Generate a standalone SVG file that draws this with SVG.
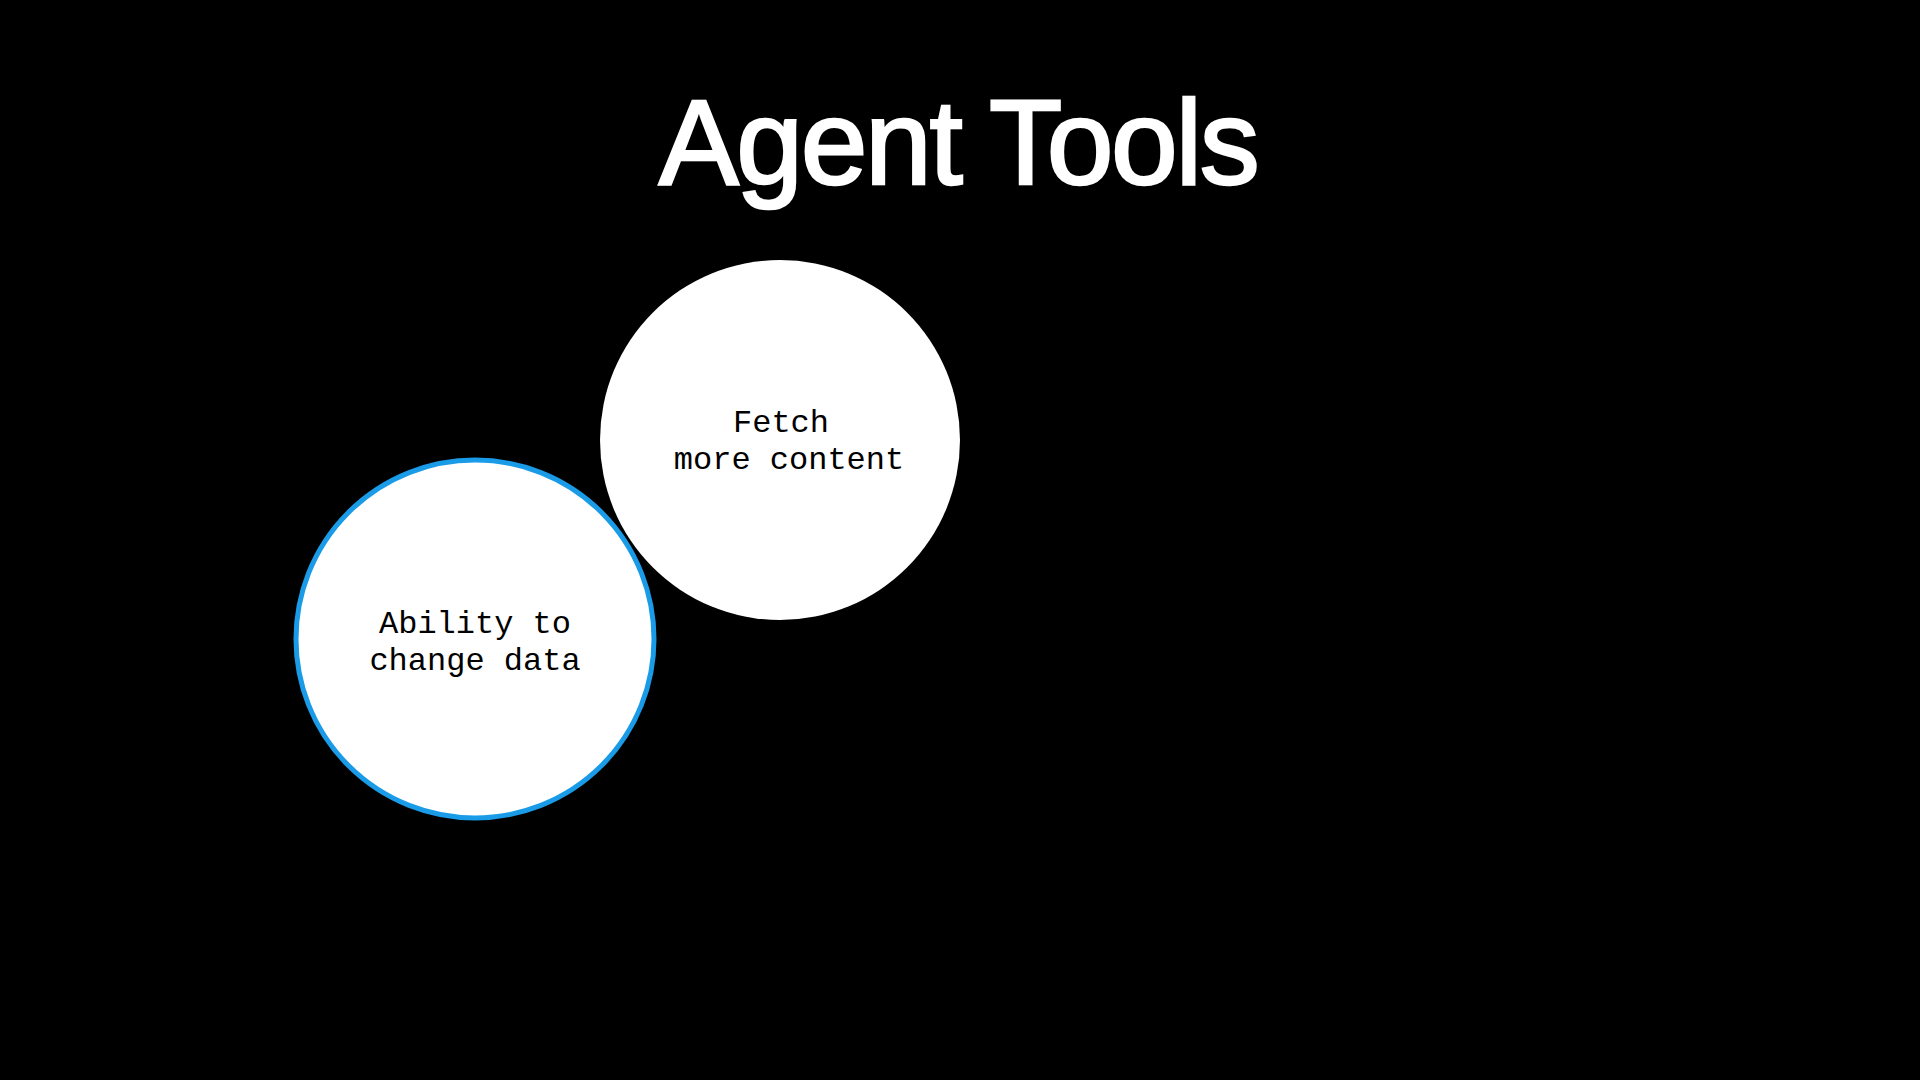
<svg xmlns="http://www.w3.org/2000/svg" width="1920" height="1080" viewBox="0 0 1920 1080">
<style>
.title{font-family:"Liberation Sans",Arial,sans-serif;font-size:120px;fill:#ffffff;stroke:#ffffff;stroke-width:2.5px;letter-spacing:-2.4px}
.lbl{font-family:"Liberation Mono","Courier New",monospace;font-size:32px;fill:#000000}
.node{fill:#ffffff}
</style>
<rect x="0" y="0" width="1920" height="1080" fill="#000000"/>
<text class="title" x="958" y="184" text-anchor="middle">Agent Tools</text>
<g id="connectors"></g>
<g id="node-fetch">
<circle class="node" cx="780" cy="440" r="180"/>
<text class="lbl" x="781" y="432" text-anchor="middle">Fetch</text>
<text class="lbl" x="789" y="469" text-anchor="middle">more content</text>
</g>
<g id="node-change">
<circle class="node" cx="475" cy="639" r="179" stroke="#1a9be8" stroke-width="5"/>
<text class="lbl" x="475" y="633" text-anchor="middle">Ability to</text>
<text class="lbl" x="475" y="670" text-anchor="middle">change data</text>
</g>
</svg>
